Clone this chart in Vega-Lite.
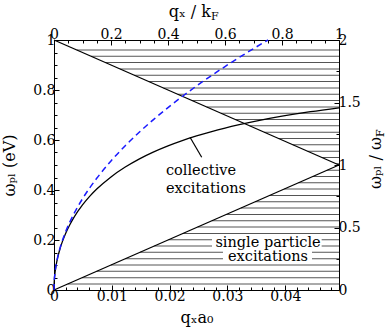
{
  "$schema": "https://vega.github.io/schema/vega-lite/v6.json",
  "width": 285,
  "height": 250,
  "autosize": {"type": "none"},
  "padding": {"left": 54, "top": 40, "right": 52, "bottom": 46},
  "background": "white",
  "config": {
    "view": {"stroke": null},
    "font": "DejaVu Serif",
    "axis": {
      "labelFont": "DejaVu Serif", "labelFontSize": 14, "labelColor": "black",
      "titleFont": "DejaVu Serif", "titleFontSize": 16, "titleFontWeight": "normal", "titleColor": "black",
      "domainColor": "black", "domainWidth": 1, "tickColor": "black", "tickWidth": 1, "grid": false,
      "labelPadding": 4, "labelFlush": false, "labelOverlap": false
    }
  },
  "datasets": {
    "hatch": [
      {"w": 0.024, "q1": 0.00237, "q2": 0.0493}, {"w": 0.049, "q1": 0.00483, "q2": 0.0493},
      {"w": 0.075, "q1": 0.0074, "q2": 0.0493}, {"w": 0.1, "q1": 0.00986, "q2": 0.0493},
      {"w": 0.125, "q1": 0.01233, "q2": 0.0493}, {"w": 0.151, "q1": 0.01489, "q2": 0.0493},
      {"w": 0.176, "q1": 0.01735, "q2": 0.0493}, {"w": 0.201, "q1": 0.01982, "q2": 0.0493},
      {"w": 0.226, "q1": 0.02228, "q2": 0.0493}, {"w": 0.252, "q1": 0.02485, "q2": 0.0493},
      {"w": 0.277, "q1": 0.02731, "q2": 0.0493}, {"w": 0.302, "q1": 0.02978, "q2": 0.0493},
      {"w": 0.328, "q1": 0.03234, "q2": 0.0493}, {"w": 0.353, "q1": 0.03481, "q2": 0.0493},
      {"w": 0.378, "q1": 0.03727, "q2": 0.0493}, {"w": 0.404, "q1": 0.03983, "q2": 0.0493},
      {"w": 0.429, "q1": 0.0423, "q2": 0.0493}, {"w": 0.454, "q1": 0.04476, "q2": 0.0493},
      {"w": 0.479, "q1": 0.04723, "q2": 0.0493},
      {"w": 0.505, "q1": 0.04881, "q2": 0.0493}, {"w": 0.53, "q1": 0.04634, "q2": 0.0493},
      {"w": 0.555, "q1": 0.04388, "q2": 0.0493}, {"w": 0.581, "q1": 0.04131, "q2": 0.0493},
      {"w": 0.606, "q1": 0.03885, "q2": 0.0493}, {"w": 0.631, "q1": 0.03638, "q2": 0.0493},
      {"w": 0.657, "q1": 0.03382, "q2": 0.0493}, {"w": 0.682, "q1": 0.03135, "q2": 0.0493},
      {"w": 0.707, "q1": 0.02889, "q2": 0.0493}, {"w": 0.732, "q1": 0.02642, "q2": 0.0493},
      {"w": 0.758, "q1": 0.02386, "q2": 0.0493}, {"w": 0.783, "q1": 0.0214, "q2": 0.0493},
      {"w": 0.808, "q1": 0.01893, "q2": 0.0493}, {"w": 0.834, "q1": 0.01637, "q2": 0.0493},
      {"w": 0.859, "q1": 0.0139, "q2": 0.0493}, {"w": 0.884, "q1": 0.01144, "q2": 0.0493},
      {"w": 0.91, "q1": 0.00887, "q2": 0.0493}, {"w": 0.935, "q1": 0.00641, "q2": 0.0493},
      {"w": 0.96, "q1": 0.00394, "q2": 0.0493}
    ],
    "boxes": [
      {"q1": 0.02733, "q2": 0.0463, "w1": 0.163, "w2": 0.214},
      {"q1": 0.02923, "q2": 0.04463, "w1": 0.113, "w2": 0.163}
    ],
    "curves": [
      {"series": "upper", "q": 0, "w": 1}, {"series": "upper", "q": 0.0493, "w": 0.5},
      {"series": "lower", "q": 0, "w": 0}, {"series": "lower", "q": 0.0493, "w": 0.5},
      {"series": "collective", "q": 0, "w": 0},
      {"series": "collective", "q": 0.0000099, "w": 0.0163},
      {"series": "collective", "q": 0.0000493, "w": 0.0365},
      {"series": "collective", "q": 0.000197, "w": 0.0728},
      {"series": "collective", "q": 0.000493, "w": 0.1146},
      {"series": "collective", "q": 0.000986, "w": 0.1608},
      {"series": "collective", "q": 0.001479, "w": 0.1955},
      {"series": "collective", "q": 0.001972, "w": 0.2242},
      {"series": "collective", "q": 0.002712, "w": 0.2601},
      {"series": "collective", "q": 0.003451, "w": 0.2904},
      {"series": "collective", "q": 0.00493, "w": 0.3402},
      {"series": "collective", "q": 0.006163, "w": 0.3743},
      {"series": "collective", "q": 0.007395, "w": 0.4037},
      {"series": "collective", "q": 0.00986, "w": 0.4524},
      {"series": "collective", "q": 0.012325, "w": 0.4918},
      {"series": "collective", "q": 0.01479, "w": 0.5246},
      {"series": "collective", "q": 0.017255, "w": 0.5525},
      {"series": "collective", "q": 0.01972, "w": 0.5766},
      {"series": "collective", "q": 0.022185, "w": 0.5977},
      {"series": "collective", "q": 0.02465, "w": 0.6163},
      {"series": "collective", "q": 0.027115, "w": 0.6329},
      {"series": "collective", "q": 0.02958, "w": 0.6479},
      {"series": "collective", "q": 0.032045, "w": 0.6613},
      {"series": "collective", "q": 0.03451, "w": 0.6736},
      {"series": "collective", "q": 0.03944, "w": 0.6951},
      {"series": "collective", "q": 0.04437, "w": 0.7133},
      {"series": "collective", "q": 0.0493, "w": 0.7289}
    ],
    "classical": [
      {"q": 0, "w": 0}, {"q": 0.0000099, "w": 0.0163}, {"q": 0.0000493, "w": 0.0365},
      {"q": 0.000197, "w": 0.073}, {"q": 0.000493, "w": 0.1154}, {"q": 0.000986, "w": 0.1632},
      {"q": 0.001479, "w": 0.1999}, {"q": 0.001972, "w": 0.2308}, {"q": 0.002712, "w": 0.2706},
      {"q": 0.003451, "w": 0.3053}, {"q": 0.00493, "w": 0.3649}, {"q": 0.006163, "w": 0.408},
      {"q": 0.007395, "w": 0.4469}, {"q": 0.00986, "w": 0.5161}, {"q": 0.012325, "w": 0.577},
      {"q": 0.01479, "w": 0.632}, {"q": 0.017255, "w": 0.6827}, {"q": 0.01972, "w": 0.7298},
      {"q": 0.022185, "w": 0.7741}, {"q": 0.02465, "w": 0.816}, {"q": 0.027115, "w": 0.8558},
      {"q": 0.02958, "w": 0.8938}, {"q": 0.032045, "w": 0.9304}, {"q": 0.03451, "w": 0.9655},
      {"q": 0.037024, "w": 1.0}
    ],
    "pointer": [{"q": 0.02353, "w": 0.611, "q2": 0.02555, "w2": 0.531}],
    "labelsLeft": [{"t": "collective", "q": 0.01937, "w": 0.46}, {"t": "excitations", "q": 0.01937, "w": 0.388}],
    "labelsCenter": [{"t": "single particle", "q": 0.03702, "w": 0.173}, {"t": "excitations", "q": 0.03702, "w": 0.117}],
    "origin": [{"q": 0, "w": 0}],
    "topTitle": [{"t": "qₓ / k", "sub": "F", "u": 0.551, "r": 2.184}],
    "rightTitle": [{"t": "ωₚₗ / ω", "sub": "F", "u": 1.147, "r": 1.224}]
  },
  "resolve": {
    "scale": {"x": "independent", "y": "independent"},
    "axis": {"x": "independent", "y": "independent"}
  },
  "layer": [
    {
      "data": {"name": "hatch"},
      "mark": {"type": "rule", "stroke": "#555555", "strokeWidth": 1},
      "encoding": {
        "x": {"field": "q1", "type": "quantitative", "scale": {"domain": [0, 0.0493], "nice": false, "zero": false},
              "axis": {"orient": "bottom", "values": [0, 0.01, 0.02, 0.03, 0.04], "format": "~g", "tickSize": -5, "title": "qₓa₀", "titlePadding": 6}},
        "x2": {"field": "q2"},
        "y": {"field": "w", "type": "quantitative", "scale": {"domain": [0, 1], "nice": false, "zero": false},
              "axis": {"orient": "left", "values": [0, 0.2, 0.4, 0.6, 0.8, 1], "format": "~g", "tickSize": -5, "title": "ωₚₗ (eV)", "titlePadding": 15}}
      }
    },
    {
      "data": {"name": "boxes"},
      "mark": {"type": "rect", "fill": "white", "stroke": null},
      "encoding": {
        "x": {"field": "q1", "type": "quantitative", "scale": {"domain": [0, 0.0493], "nice": false, "zero": false}, "axis": null},
        "x2": {"field": "q2"},
        "y": {"field": "w1", "type": "quantitative", "scale": {"domain": [0, 1], "nice": false, "zero": false}, "axis": null},
        "y2": {"field": "w2"}
      }
    },
    {
      "data": {"name": "curves"},
      "mark": {"type": "line", "color": "black", "strokeWidth": 1.3, "interpolate": "monotone"},
      "encoding": {
        "x": {"field": "q", "type": "quantitative", "scale": {"domain": [0, 0.0493], "nice": false, "zero": false}, "axis": null},
        "y": {"field": "w", "type": "quantitative", "scale": {"domain": [0, 1], "nice": false, "zero": false}, "axis": null},
        "detail": {"field": "series", "type": "nominal"}
      }
    },
    {
      "data": {"name": "classical"},
      "mark": {"type": "line", "color": "#1a1aff", "strokeWidth": 1.5, "strokeDash": [6, 4], "interpolate": "monotone"},
      "encoding": {
        "x": {"field": "q", "type": "quantitative", "scale": {"domain": [0, 0.0493], "nice": false, "zero": false}, "axis": null},
        "y": {"field": "w", "type": "quantitative", "scale": {"domain": [0, 1], "nice": false, "zero": false}, "axis": null}
      }
    },
    {
      "data": {"name": "pointer"},
      "mark": {"type": "rule", "color": "black", "strokeWidth": 1.2},
      "encoding": {
        "x": {"field": "q", "type": "quantitative", "scale": {"domain": [0, 0.0493], "nice": false, "zero": false}, "axis": null},
        "x2": {"field": "q2"},
        "y": {"field": "w", "type": "quantitative", "scale": {"domain": [0, 1], "nice": false, "zero": false}, "axis": null},
        "y2": {"field": "w2"}
      }
    },
    {
      "data": {"name": "labelsLeft"},
      "mark": {"type": "text", "font": "DejaVu Serif", "fontSize": 14.5, "align": "left", "baseline": "alphabetic", "color": "black"},
      "encoding": {
        "x": {"field": "q", "type": "quantitative", "scale": {"domain": [0, 0.0493], "nice": false, "zero": false}, "axis": null},
        "y": {"field": "w", "type": "quantitative", "scale": {"domain": [0, 1], "nice": false, "zero": false}, "axis": null},
        "text": {"field": "t"}
      }
    },
    {
      "data": {"name": "labelsCenter"},
      "mark": {"type": "text", "font": "DejaVu Serif", "fontSize": 14.5, "align": "center", "baseline": "alphabetic", "color": "black"},
      "encoding": {
        "x": {"field": "q", "type": "quantitative", "scale": {"domain": [0, 0.0493], "nice": false, "zero": false}, "axis": null},
        "y": {"field": "w", "type": "quantitative", "scale": {"domain": [0, 1], "nice": false, "zero": false}, "axis": null},
        "text": {"field": "t"}
      }
    },
    {
      "data": {"name": "origin"},
      "mark": {"type": "point", "opacity": 0},
      "encoding": {
        "x": {"field": "q", "type": "quantitative", "scale": {"domain": [0, 0.0493], "nice": false, "zero": false},
              "axis": {"orient": "bottom", "values": [0.002, 0.004, 0.006, 0.008, 0.012, 0.014, 0.016, 0.018, 0.022, 0.024, 0.026, 0.028, 0.032, 0.034, 0.036, 0.038, 0.042, 0.044, 0.046, 0.048], "labels": false, "domain": false, "tickSize": -3, "title": null}},
        "y": {"field": "w", "type": "quantitative", "scale": {"domain": [0, 1], "nice": false, "zero": false},
              "axis": {"orient": "left", "values": [0.05, 0.1, 0.15, 0.25, 0.3, 0.35, 0.45, 0.5, 0.55, 0.65, 0.7, 0.75, 0.85, 0.9, 0.95], "labels": false, "domain": false, "tickSize": -3, "title": null}}
      }
    },
    {
      "data": {"name": "origin"},
      "mark": {"type": "point", "opacity": 0},
      "encoding": {
        "x": {"field": "q", "type": "quantitative", "scale": {"domain": [0, 1], "nice": false, "zero": false},
              "axis": {"orient": "top", "values": [0, 0.2, 0.4, 0.6, 0.8, 1], "format": "~g", "tickSize": -5, "title": null}},
        "y": {"field": "w", "type": "quantitative", "scale": {"domain": [0, 2], "nice": false, "zero": false},
              "axis": {"orient": "right", "values": [0, 0.5, 1, 1.5, 2], "format": "~g", "tickSize": -5, "title": null}}
      }
    },
    {
      "data": {"name": "origin"},
      "mark": {"type": "point", "opacity": 0},
      "encoding": {
        "x": {"field": "q", "type": "quantitative", "scale": {"domain": [0, 1], "nice": false, "zero": false},
              "axis": {"orient": "top", "values": [0.05, 0.1, 0.15, 0.25, 0.3, 0.35, 0.45, 0.5, 0.55, 0.65, 0.7, 0.75, 0.85, 0.9, 0.95], "labels": false, "domain": false, "tickSize": -3, "title": null}},
        "y": {"field": "w", "type": "quantitative", "scale": {"domain": [0, 2], "nice": false, "zero": false},
              "axis": {"orient": "right", "values": [0.25, 0.75, 1.25, 1.75], "labels": false, "domain": false, "tickSize": -3, "title": null}}
      }
    },
    {
      "data": {"name": "topTitle"},
      "mark": {"type": "text", "font": "DejaVu Serif", "fontSize": 16, "align": "right", "baseline": "alphabetic", "color": "black"},
      "encoding": {
        "x": {"field": "u", "type": "quantitative", "scale": {"domain": [0, 1], "nice": false, "zero": false}, "axis": null},
        "y": {"field": "r", "type": "quantitative", "scale": {"domain": [0, 2], "nice": false, "zero": false}, "axis": null},
        "text": {"field": "t"}
      }
    },
    {
      "data": {"name": "topTitle"},
      "mark": {"type": "text", "font": "DejaVu Serif", "fontSize": 11, "align": "left", "baseline": "alphabetic", "dy": 3, "color": "black"},
      "encoding": {
        "x": {"field": "u", "type": "quantitative", "scale": {"domain": [0, 1], "nice": false, "zero": false}, "axis": null},
        "y": {"field": "r", "type": "quantitative", "scale": {"domain": [0, 2], "nice": false, "zero": false}, "axis": null},
        "text": {"field": "sub"}
      }
    },
    {
      "data": {"name": "rightTitle"},
      "mark": {"type": "text", "font": "DejaVu Serif", "fontSize": 16, "align": "right", "baseline": "alphabetic", "angle": 270, "color": "black"},
      "encoding": {
        "x": {"field": "u", "type": "quantitative", "scale": {"domain": [0, 1], "nice": false, "zero": false}, "axis": null},
        "y": {"field": "r", "type": "quantitative", "scale": {"domain": [0, 2], "nice": false, "zero": false}, "axis": null},
        "text": {"field": "t"}
      }
    },
    {
      "data": {"name": "rightTitle"},
      "mark": {"type": "text", "font": "DejaVu Serif", "fontSize": 11, "align": "left", "baseline": "alphabetic", "angle": 270, "dy": 3, "color": "black"},
      "encoding": {
        "x": {"field": "u", "type": "quantitative", "scale": {"domain": [0, 1], "nice": false, "zero": false}, "axis": null},
        "y": {"field": "r", "type": "quantitative", "scale": {"domain": [0, 2], "nice": false, "zero": false}, "axis": null},
        "text": {"field": "sub"}
      }
    }
  ]
}
